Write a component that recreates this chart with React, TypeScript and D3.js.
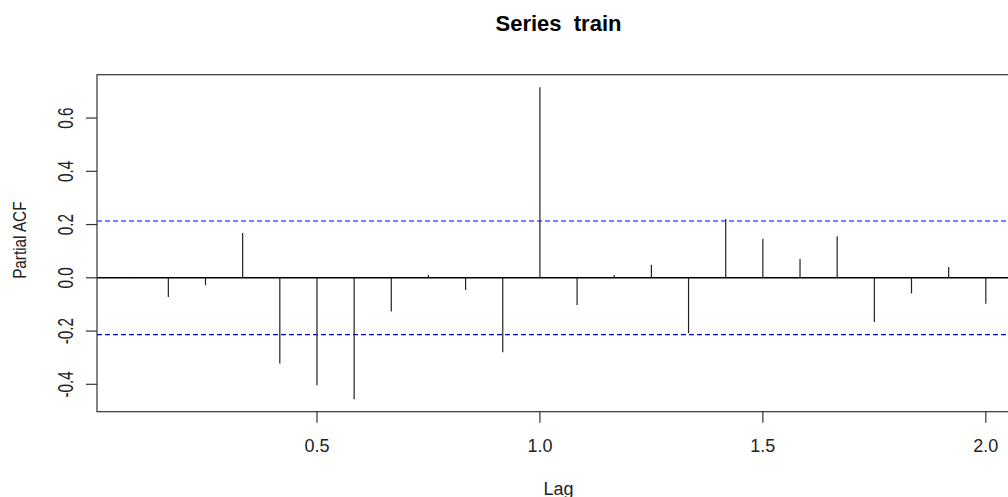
import React from "react";
import * as d3 from "d3";

const lagMonths: number[] = [1, 2, 3, 4, 5, 6, 7, 8, 9, 10, 11, 12, 13, 14, 15, 16, 17, 18, 19, 20, 21, 22, 23, 24];
const pacfValues: number[] = [
  0.001, -0.072, -0.028, 0.168, -0.322, -0.404, -0.456, -0.127, 0.011, -0.046, -0.28, 0.716,
  -0.102, 0.011, 0.049, -0.208, 0.221, 0.147, 0.071, 0.156, -0.166, -0.059, 0.041, -0.097,
];
const frequency = 12;
const confLimit = 0.2134;
const xTicks: number[] = [0.5, 1.0, 1.5, 2.0];
const yTicks: number[] = [-0.4, -0.2, 0.0, 0.2, 0.4, 0.6];
const title = "Series  train";
const xLabel = "Lag";
const yLabel = "Partial ACF";

const W = 1008;
const H = 497;
const left = 97;
const right = 1020;
const top = 74.7;
const bottom = 411.7;

export default function App() {
  const lags = lagMonths.map((m) => m / frequency);
  const [x0, x1] = d3.extent(lags) as [number, number];
  const xr = x1 - x0;
  const x = d3.scaleLinear().domain([x0 - 0.04 * xr, x1 + 0.04 * xr]).range([left, right]);

  const yAll = [...pacfValues, confLimit, -confLimit];
  const [y0, y1] = d3.extent(yAll) as [number, number];
  const yr = y1 - y0;
  const y = d3.scaleLinear().domain([y0 - 0.04 * yr, y1 + 0.04 * yr]).range([bottom, top]);

  const font = "'Liberation Sans', Arial, Helvetica, sans-serif";
  const midX = (left + right) / 2;
  const midY = (top + bottom) / 2;

  return (
    <svg
      width={W}
      height={H}
      style={{ position: "absolute", left: 0, top: 0, background: "#fff" }}
      fontFamily={font}
    >
      <defs>
        <clipPath id="plotclip">
          <rect x={left} y={top} width={right - left} height={bottom - top} />
        </clipPath>
      </defs>
      <rect x={0} y={0} width={W} height={H} fill="#fff" />
      {/* title */}
      <text
        x={midX}
        y={31}
        textAnchor="middle"
        fontSize={22}
        fontWeight="bold"
        fill="#000"
        style={{ whiteSpace: "pre" }}
        xmlSpace="preserve"
      >
        {title}
      </text>
      {/* plot box */}
      <rect x={left} y={top} width={right - left} height={bottom - top} fill="none" stroke="#333" strokeWidth={1.2} />
      <g clipPath="url(#plotclip)">
        {/* zero line */}
        <line x1={left} x2={right} y1={y(0)} y2={y(0)} stroke="#000" strokeWidth={1.4} />
        {/* confidence lines */}
        {[confLimit, -confLimit].map((c, i) => (
          <line key={i} x1={left} x2={right} y1={y(c)} y2={y(c)} stroke="#0000ff" strokeWidth={1.2} strokeDasharray="5,3" />
        ))}
        {/* stems */}
        {lags.map((l, i) => (
          <line key={i} x1={x(l)} x2={x(l)} y1={y(0)} y2={y(pacfValues[i])} stroke="#222" strokeWidth={1.2} />
        ))}
      </g>
      {/* x axis */}
      {xTicks.map((t) => (
        <g key={t}>
          <line x1={x(t)} x2={x(t)} y1={bottom} y2={bottom + 11} stroke="#333" strokeWidth={1.2} />
          <text x={x(t)} y={451.7} textAnchor="middle" fontSize={18} fill="#222">
            {t.toFixed(1)}
          </text>
        </g>
      ))}
      <text x={midX} y={495} textAnchor="middle" fontSize={18} fill="#222">
        {xLabel}
      </text>
      {/* y axis */}
      {yTicks.map((t) => (
        <g key={t}>
          <line x1={left} x2={left - 11} y1={y(t)} y2={y(t)} stroke="#333" strokeWidth={1.2} />
          <text
            transform={`translate(73.3,${y(t)}) rotate(-90) scale(0.85,1.2)`}
            textAnchor="middle"
            fontSize={18}
            fill="#222"
          >
            {t.toFixed(1)}
          </text>
        </g>
      ))}
      <text
        transform={`translate(26,${midY - 3}) rotate(-90) scale(0.85,1.05)`}
        textAnchor="middle"
        fontSize={18}
        fill="#222"
      >
        {yLabel}
      </text>
    </svg>
  );
}
